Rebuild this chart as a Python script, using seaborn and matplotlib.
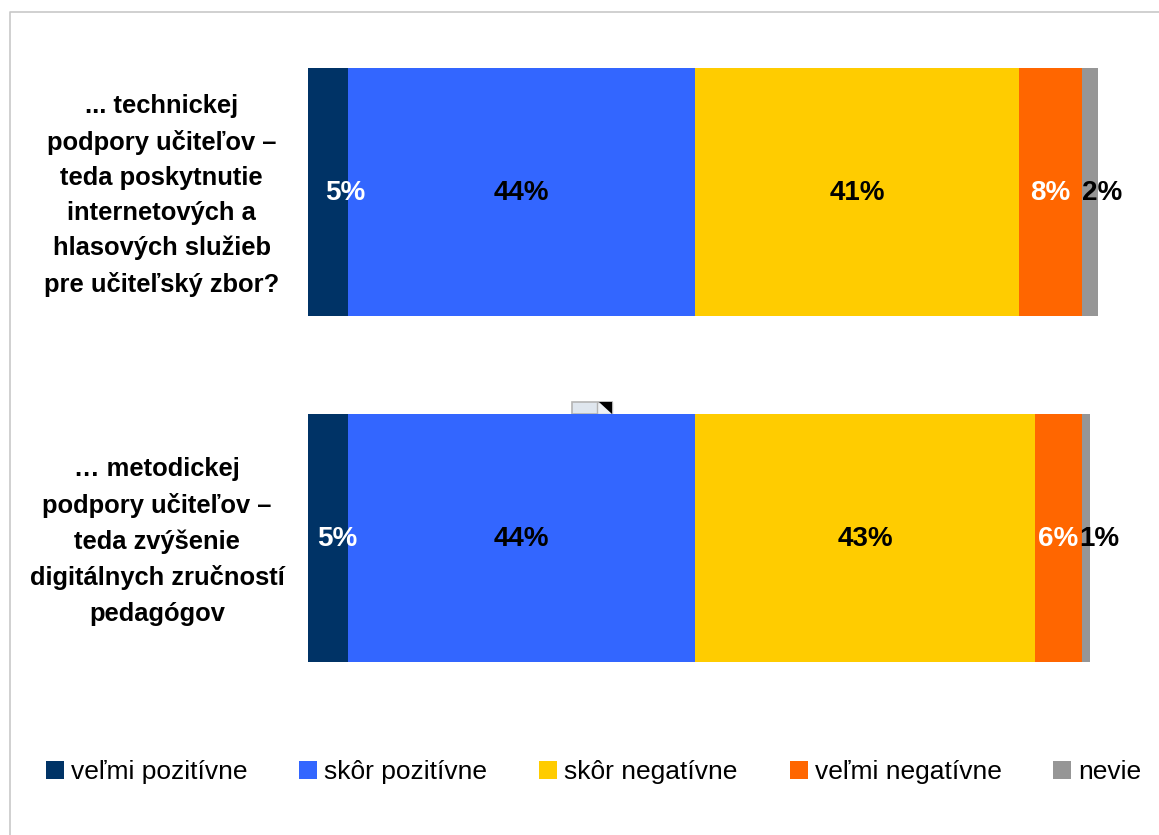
import numpy as np
import pandas as pd
import seaborn as sns
import matplotlib
matplotlib.use("Agg")
import matplotlib.pyplot as plt
from matplotlib.patches import Patch, Rectangle, Polygon
from matplotlib.lines import Line2D
from matplotlib.transforms import Affine2D

categories = [
    "... technickej\npodpory učiteľov –\nteda poskytnutie\ninternetových a\nhlasových služieb\npre učiteľský zbor?",
    "… metodickej\npodpory učiteľov –\nteda zvýšenie\ndigitálnych zručností\npedagógov",
]
series_names = ["veľmi pozitívne", "skôr pozitívne", "skôr negatívne", "veľmi negatívne", "nevie"]
velmi_pozitivne = [5, 5]
skor_pozitivne = [44, 44]
skor_negativne = [41, 43]
velmi_negativne = [8, 6]
nevie = [2, 1]
colors = ["#003366", "#3366FF", "#FFCC00", "#FF6600", "#969696"]
label_colors = ["white", "black", "black", "white", "black"]

W, H = 1159, 835
sns.set_theme(style="white")
plt.rcParams["font.family"] = ["Liberation Sans", "DejaVu Sans"]

fig = plt.figure(figsize=(W / 100, H / 100), dpi=100, facecolor="white")
# axes spans 308..1098 px horizontally; categories centred at y=192 and y=538 px
ax = fig.add_axes([308 / W, 1 - 711 / H, 790 / W, (711 - 19) / H])
ax.patch.set_visible(False)

values = np.array([velmi_pozitivne, skor_pozitivne, skor_negativne, velmi_negativne, nevie], dtype=float)
lefts = np.vstack([np.zeros(2), np.cumsum(values, axis=0)[:-1]])

for name, vals, left, color in zip(series_names, values, lefts, colors):
    df = pd.DataFrame({"kategoria": categories, "hodnota": vals})
    sns.barplot(data=df, y="kategoria", x="hodnota", order=categories, left=left,
                color=color, saturation=1, width=248 / 346, linewidth=0, ax=ax, errorbar=None)

ax.set_xlim(0, 100)
ax.set_ylim(1 + (711 - 538) / 346, -(192 - 19) / 346)
ax.set_xlabel("")
ax.set_ylabel("")
ax.set_xticks([])
for s in ax.spines.values():
    s.set_visible(False)
ax.tick_params(axis="y", length=0, pad=17)
label_shift_x = [-5, 0]
for t, dx in zip(ax.get_yticklabels(), label_shift_x):
    t.set_fontsize(18.4)
    t.set_fontweight("bold")
    t.set_color("black")
    t.set_multialignment("center")
    t.set_linespacing(1.58)
    t.set_verticalalignment("center")
    t.set_transform(t.get_transform() + Affine2D().translate(dx, -3.5))

# pixel nudges of the data labels relative to segment centres (series x category)
nudges = [[17, 10], [0, 0], [0, 0], [0, 0], [12, 13]]
for i, (vals, left) in enumerate(zip(values, lefts)):
    for j in range(2):
        xc = left[j] + vals[j] / 2 + nudges[i][j] / 7.9
        ax.annotate(f"{vals[j]:.0f}%", (xc, j), xytext=(0, -1), textcoords="offset points",
                    ha="center", va="center", fontsize=20,
                    fontweight="bold", color=label_colors[i], annotation_clip=False, zorder=5)

handles = [Patch(facecolor=c, edgecolor="none", label=n) for c, n in zip(colors, series_names)]
fig.legend(handles=handles, loc="center left", bbox_to_anchor=(46 / W, 1 - 772 / H), ncol=5,
           frameon=False, fontsize=19, handlelength=0.68, handleheight=0.68,
           handletextpad=0.265, columnspacing=1.97, borderpad=0, borderaxespad=0,
           labelcolor="black")

# thin grey frame on the top and left edge
fig.add_artist(Line2D([10 / W, 10 / W, 1], [0, 1 - 11.5 / H, 1 - 11.5 / H], color="#c8c8c8", lw=1.2))

# small object icon peeking above the lower bar
fig.add_artist(Rectangle((572 / W, 1 - 414 / H), 40 / W, 12 / H, facecolor="#dfe6ee",
                         edgecolor="#b4b4b4", lw=1.2, transform=fig.transFigure, zorder=-1))
fig.add_artist(Rectangle((597 / W, 1 - 414 / H), 15 / W, 12 / H, facecolor="#eef1f5",
                         edgecolor="#b4b4b4", lw=1, transform=fig.transFigure, zorder=-1))
fig.add_artist(Polygon([(599 / W, 1 - 402 / H), (612 / W, 1 - 402 / H), (612 / W, 1 - 414 / H)],
                       facecolor="black", edgecolor="none", transform=fig.transFigure, zorder=-1))

fig.savefig("out.png", dpi=100, facecolor="white")
